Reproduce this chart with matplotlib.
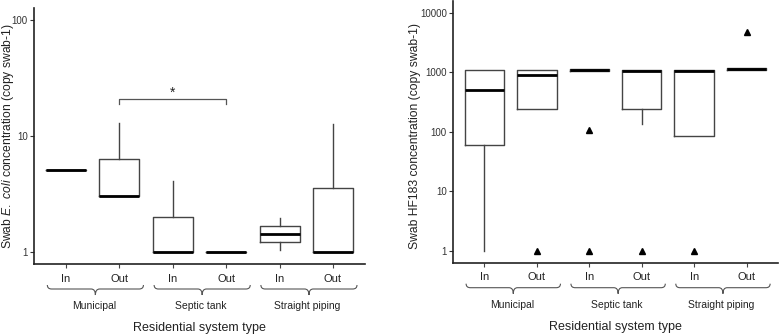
import matplotlib
matplotlib.use("Agg")
import matplotlib.pyplot as plt
from matplotlib.path import Path
from matplotlib.patches import PathPatch

plt.rcParams['font.family'] = ['Liberation Sans', 'DejaVu Sans']
plt.rcParams['mathtext.fontset'] = 'custom'
plt.rcParams['mathtext.rm'] = 'Liberation Sans'
plt.rcParams['mathtext.it'] = 'Liberation Sans:italic'

# ---- data ----
tick_labels = ["In", "Out", "In", "Out", "In", "Out"]
groups = ["Municipal", "Septic tank", "Straight piping"]

# E. coli (left panel)
ec_q1 = [5.1, 3.07, 1.0, 1.0, 1.22, 1.0]
ec_med = [5.1, 3.07, 1.0, 1.0, 1.43, 1.0]
ec_q3 = [5.1, 6.3, 2.02, 1.0, 1.69, 3.55]
ec_lo = [5.1, 3.07, 1.0, 1.0, 1.04, 1.0]
ec_hi = [5.1, 12.9, 4.07, 1.0, 1.98, 12.6]
ec_fliers = [[], [], [], [], [], []]

# HF183 (right panel)
hf_q1 = [60, 240, 1060, 245, 86, 1090]
hf_med = [507, 915, 1100, 1050, 1060, 1130]
hf_q3 = [1100, 1100, 1140, 1100, 1090, 1180]
hf_lo = [1, 240, 1060, 135, 86, 1090]
hf_hi = [1100, 1100, 1140, 1100, 1110, 1180]
hf_fliers = [[], [1], [106, 1], [1], [1], [4850]]

W, H = 780, 336
fig = plt.figure(figsize=(W / 100, H / 100), dpi=100)

def px_axes(l, r, t, b):
    return fig.add_axes([l / W, (H - b) / H, (r - l) / W, (b - t) / H])

axL = px_axes(34, 365, 8, 264)
axR = px_axes(453, 778, 1, 262.7)

edge = '#444444'

def draw(ax, q1, med, q3, lo, hi, fl, ylim, yticks, ylabel, hpx, label_x, label_y):
    stats = []
    for i in range(len(q1)):
        stats.append(dict(q1=q1[i], med=med[i], q3=q3[i], whislo=lo[i],
                          whishi=hi[i], fliers=fl[i]))
    pos = list(range(1, len(q1) + 1))
    ax.bxp(stats, positions=pos, widths=0.75, showcaps=False,
           boxprops=dict(color=edge, lw=1.0),
           whiskerprops=dict(color=edge, lw=1.0),
           medianprops=dict(color='black', lw=2.0),
           flierprops=dict(marker='^', markerfacecolor='black',
                           markeredgecolor='black', markersize=4.5))
    ax.set_yscale('log')
    ax.set_ylim(*ylim)
    ax.set_xlim(0.4, 6.6)
    ax.set_yticks(yticks)
    ax.set_yticklabels([str(t) for t in yticks])
    ax.minorticks_off()
    ax.set_xticks(pos)
    ax.set_xticklabels(tick_labels, fontsize=8, color='#222222')
    ax.tick_params(axis='y', labelsize=7, colors='#333333', length=3, width=0.8, pad=1.5)
    ax.tick_params(axis='x', length=3, width=0.8, pad=4, colors='#444444')
    for lab in ax.get_xticklabels():
        lab.set_color('#222222')
    for lab in ax.get_yticklabels():
        lab.set_color('#333333')
    for s in ['top', 'right']:
        ax.spines[s].set_visible(False)
    for s in ['left', 'bottom']:
        ax.spines[s].set_color('#222222')
        ax.spines[s].set_linewidth(1.2)
    ax.set_ylabel(ylabel, fontsize=8.7, color='#222222', va='center')
    ax.yaxis.set_label_coords(label_x, label_y)

    tr = ax.get_xaxis_transform()
    f = lambda d: -d / hpx
    r = 0.08
    for g, name in enumerate(groups):
        xc = 1.5 + 2 * g + 0.05
        x0, x1 = xc - 0.9, xc + 0.9
        verts = [(x0, f(21)), (x0, f(25)), (x0 + r, f(25)),
                 (xc - r, f(25)), (xc, f(25)), (xc, f(31)),
                 (xc, f(25)), (xc + r, f(25)),
                 (x1 - r, f(25)), (x1, f(25)), (x1, f(21))]
        codes = [Path.MOVETO, Path.CURVE3, Path.CURVE3,
                 Path.LINETO, Path.CURVE3, Path.CURVE3,
                 Path.CURVE3, Path.CURVE3,
                 Path.LINETO, Path.CURVE3, Path.CURVE3]
        ax.add_patch(PathPatch(Path(verts, codes), transform=tr, fill=False,
                               edgecolor='#555555', lw=0.8, clip_on=False))
        ax.text(xc - 0.03, f(42), name, transform=tr, ha='center', va='center',
                fontsize=7.5, color='#222222')
    ax.text(3.5, f(64), "Residential system type", transform=tr,
            ha='center', va='center', fontsize=9, color='#222222')

draw(axL, ec_q1, ec_med, ec_q3, ec_lo, ec_hi, ec_fliers,
     (10 ** -0.1, 10 ** 2.1), [1, 10, 100],
     "Swab $\\it{E.}$ $\\it{coli}$ concentration (copy swab-1)", 256,
     (8 - 34) / 331, (264 - 136) / 256)
draw(axR, hf_q1, hf_med, hf_q3, hf_lo, hf_hi, hf_fliers,
     (10 ** -0.2, 10 ** 4.2), [1, 10, 100, 1000, 10000],
     "Swab HF183 concentration (copy swab-1)", 261.7,
     (415 - 453) / 325, (262.7 - 136) / 261.7)

# significance bracket (left panel)
sig_y, sig_tick = 20.8, 18.8
axL.plot([2, 2, 4, 4], [sig_tick, sig_y, sig_y, sig_tick], color='#555555', lw=0.9)
axL.text(3, sig_y * 1.13, "*", ha='center', va='center', fontsize=10, color='#222222')

fig.savefig("out.png", dpi=100)
